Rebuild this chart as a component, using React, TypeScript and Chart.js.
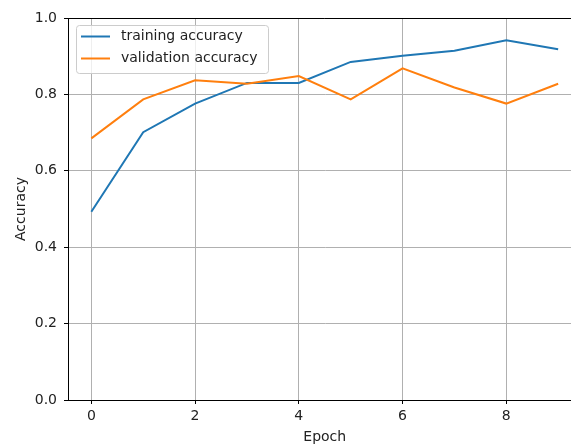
import React, { useEffect, useRef } from "react";
import { Chart, registerables } from "chart.js";

Chart.register(...registerables);

const epochs = [0, 1, 2, 3, 4, 5, 6, 7, 8, 9];
const trainingAccuracy = [0.493, 0.701, 0.776, 0.83, 0.83, 0.885, 0.901, 0.914, 0.942, 0.918];
const validationAccuracy = [0.685, 0.787, 0.837, 0.828, 0.848, 0.787, 0.868, 0.818, 0.776, 0.828];
const xTicks = [0, 2, 4, 6, 8];
const yTicks = [0, 0.2, 0.4, 0.6, 0.8, 1.0];

const FONT = "'DejaVu Sans', sans-serif";

const overlayPlugin = {
  id: "mplOverlay",
  afterDraw(chart: any) {
    const { ctx, chartArea } = chart;
    ctx.save();
    // top spine
    ctx.strokeStyle = "#000";
    ctx.lineWidth = 1;
    ctx.beginPath();
    ctx.moveTo(chartArea.left, Math.round(chartArea.top) + 0.5);
    ctx.lineTo(chartArea.right, Math.round(chartArea.top) + 0.5);
    ctx.stroke();
    // legend
    const bx = chartArea.left + 8;
    const by = chartArea.top + 7;
    const bw = 192;
    const bh = 48;
    ctx.fillStyle = "rgba(255,255,255,0.8)";
    ctx.strokeStyle = "#cccccc";
    ctx.lineWidth = 1;
    ctx.beginPath();
    (ctx as any).roundRect(bx + 0.5, by + 0.5, bw, bh, 3);
    ctx.fill();
    ctx.stroke();
    ctx.font = `14px ${FONT}`;
    ctx.textBaseline = "middle";
    ctx.textAlign = "left";
    chart.data.datasets.forEach((ds: any, i: number) => {
      const y = by + 11.5 + i * 22;
      ctx.strokeStyle = ds.borderColor;
      ctx.lineWidth = 2;
      ctx.beginPath();
      ctx.moveTo(bx + 5, y);
      ctx.lineTo(bx + 34, y);
      ctx.stroke();
      ctx.fillStyle = "#222";
      ctx.fillText(ds.label, bx + 45, y);
    });
    ctx.restore();
  },
};

export default function App() {
  const ref = useRef<HTMLCanvasElement>(null);
  useEffect(() => {
    document.body.style.overflow = "hidden";
    const chart = new Chart(ref.current!, {
      type: "line",
      data: {
        datasets: [
          {
            label: "training accuracy",
            data: epochs.map((e, i) => ({ x: e, y: trainingAccuracy[i] })),
            borderColor: "#1f77b4",
            backgroundColor: "#1f77b4",
            borderWidth: 2,
            pointRadius: 0,
            tension: 0,
            order: 1,
          },
          {
            label: "validation accuracy",
            data: epochs.map((e, i) => ({ x: e, y: validationAccuracy[i] })),
            borderColor: "#ff7f0e",
            backgroundColor: "#ff7f0e",
            borderWidth: 2,
            pointRadius: 0,
            tension: 0,
            order: 0,
          },
        ],
      },
      options: {
        animation: false,
        responsive: false,
        layout: { padding: { left: 0, right: 8.5, top: 18, bottom: 0 } },
        plugins: { legend: { display: false }, tooltip: { enabled: false } },
        scales: {
          x: {
            type: "linear",
            min: -0.45,
            max: 9.45,
            afterBuildTicks: (s: any) => {
              s.ticks = xTicks.map((v) => ({ value: v }));
            },
            afterFit: (s: any) => {
              s.height = 44;
            },
            ticks: {
              color: "#222",
              font: { family: FONT, size: 14 },
              padding: 4,
              maxRotation: 0,
              autoSkip: false,
              callback: (v: any) => String(v),
            },
            grid: { color: "#b0b0b0", lineWidth: 1, tickColor: "#000", tickLength: 4 },
            border: { color: "#000", width: 1 },
            title: {
              display: true,
              text: "Epoch",
              color: "#222",
              font: { family: FONT, size: 14, lineHeight: 1 },
              padding: { top: 0, bottom: 0 },
            },
          },
          y: {
            type: "linear",
            min: 0,
            max: 1,
            afterBuildTicks: (s: any) => {
              s.ticks = yTicks.map((v) => ({ value: v }));
            },
            afterFit: (s: any) => {
              s.width = 68;
            },
            ticks: {
              color: "#222",
              font: { family: FONT, size: 14 },
              padding: 7,
              autoSkip: false,
              callback: (v: any) => Number(v).toFixed(1),
            },
            grid: { color: "#b0b0b0", lineWidth: 1, tickColor: "#000", tickLength: 4 },
            border: { color: "#000", width: 1 },
            title: {
              display: true,
              text: "Accuracy",
              color: "#222",
              font: { family: FONT, size: 14, lineHeight: 1 },
              padding: { top: 14, bottom: 0 },
            },
          },
        },
      },
      plugins: [overlayPlugin],
    } as any);
    return () => chart.destroy();
  }, []);
  return (
    <div style={{ position: "fixed", left: 0, top: 0, width: 571, height: 444, overflow: "hidden", background: "#fff" }}>
      <canvas ref={ref} width={590} height={444} style={{ display: "block" }} />
    </div>
  );
}
